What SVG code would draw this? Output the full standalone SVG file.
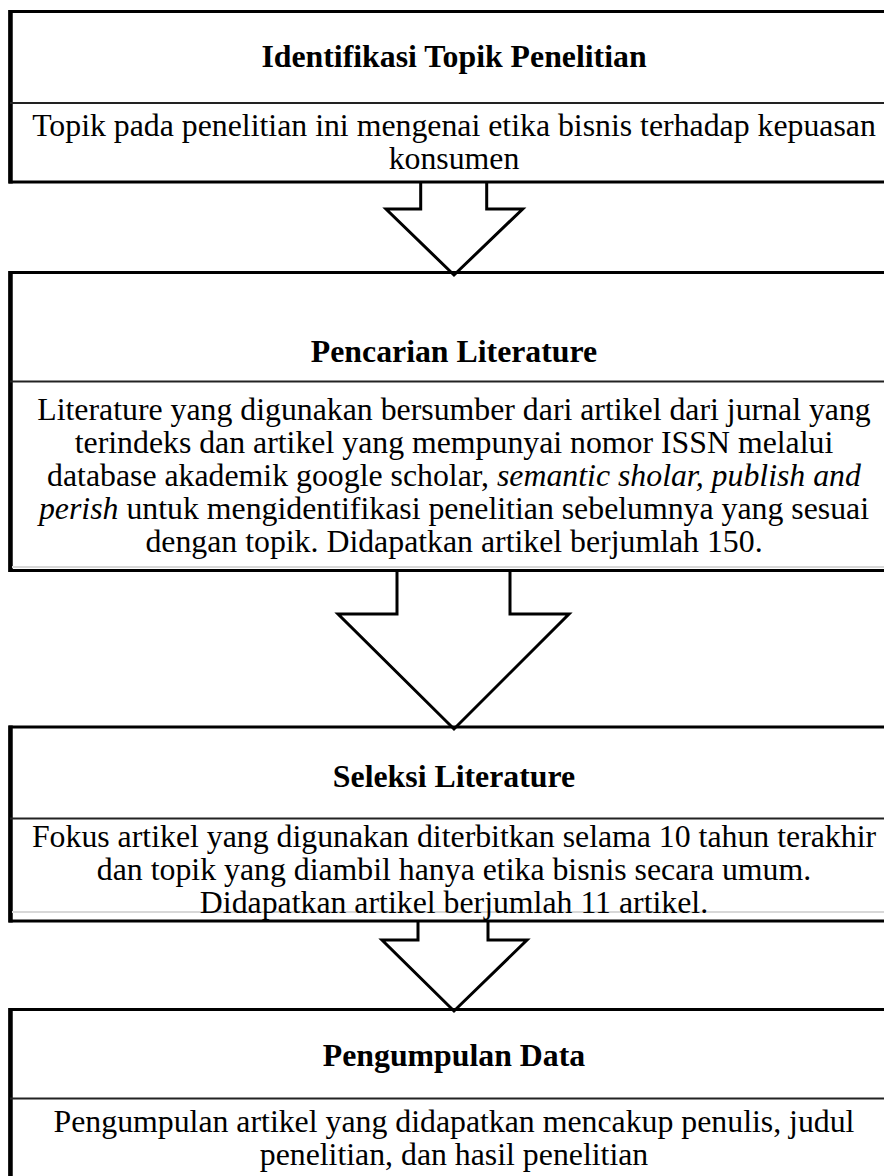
<svg xmlns="http://www.w3.org/2000/svg" width="884" height="1176" viewBox="0 0 884 1176">
<style>
.box{fill:#fff;stroke:#000;stroke-width:3}
.lft{stroke:#000;stroke-width:4.5}
.div{stroke:#222;stroke-width:2.2}
.faint{stroke:#d8d8d8;stroke-width:2}
.t{font-family:"Liberation Serif","Times New Roman",Times,serif;font-size:31.8px;fill:#000;text-anchor:middle}
.b{font-weight:bold}
.i{font-style:italic}
.arr{fill:none;stroke:#000;stroke-width:3;stroke-linejoin:miter}
</style>
<rect width="884" height="1176" fill="#fff"/>
<g id="node1">
<rect class="box" x="10" y="11.5" width="900" height="170.5"/>
<line class="lft" x1="10.5" y1="10" x2="10.5" y2="183.5"/>
<line class="div" x1="10" y1="103" x2="900" y2="103"/>
<text class="t b" x="454" y="67">Identifikasi Topik Penelitian</text>
<text class="t" x="454" y="136">Topik pada penelitian ini mengenai etika bisnis terhadap kepuasan</text>
<text class="t" x="454" y="168.5">konsumen</text>
</g>
<g id="node2">
<rect class="box" x="10" y="272.5" width="900" height="298"/>
<line class="lft" x1="10.5" y1="271" x2="10.5" y2="572"/>
<line class="div" x1="10" y1="381.5" x2="900" y2="381.5"/>
<line class="faint" x1="12" y1="567" x2="900" y2="567"/>
<text class="t b" x="454" y="361.5">Pencarian Literature</text>
<text class="t" x="454" y="420">Literature yang digunakan bersumber dari artikel dari jurnal yang</text>
<text class="t" x="454" y="453">terindeks dan artikel yang mempunyai nomor ISSN melalui</text>
<text class="t" x="454" y="486">database akademik google scholar, <tspan class="i">semantic sholar, publish and</tspan></text>
<text class="t" x="454" y="519"><tspan class="i">perish</tspan> untuk mengidentifikasi penelitian sebelumnya yang sesuai</text>
<text class="t" x="454" y="552">dengan topik. Didapatkan artikel berjumlah 150.</text>
</g>
<g id="node3">
<rect class="box" x="10" y="727" width="900" height="194"/>
<line class="lft" x1="10.5" y1="725.5" x2="10.5" y2="922.5"/>
<line class="div" x1="10" y1="818.5" x2="900" y2="818.5"/>
<line class="faint" x1="12" y1="912" x2="900" y2="912"/>
<text class="t b" x="454" y="787">Seleksi Literature</text>
<text class="t" x="454" y="847">Fokus artikel yang digunakan diterbitkan selama 10 tahun terakhir</text>
<text class="t" x="454" y="880">dan topik yang diambil hanya etika bisnis secara umum.</text>
<text class="t" x="454" y="913">Didapatkan artikel berjumlah 11 artikel.</text>
</g>
<g id="node4">
<rect class="box" x="10" y="1009.5" width="900" height="200"/>
<line class="lft" x1="10.5" y1="1008" x2="10.5" y2="1176"/>
<line class="div" x1="10" y1="1098.5" x2="900" y2="1098.5"/>
<text class="t b" x="454" y="1066">Pengumpulan Data</text>
<text class="t" x="454" y="1132">Pengumpulan artikel yang didapatkan mencakup penulis, judul</text>
<text class="t" x="454" y="1165">penelitian, dan hasil penelitian</text>
</g>
<g id="connectors">
<path class="arr" d="M420.7,182 V209 H386 L454,275 L522.7,209 H486.7 V182"/>
<path class="arr" d="M397,571 V614 H338 L454,729 L569,614 H510 V571"/>
<path class="arr" d="M418,921 V940 H382 L454,1011 L527,940 H488 V921"/>
</g>
</svg>
